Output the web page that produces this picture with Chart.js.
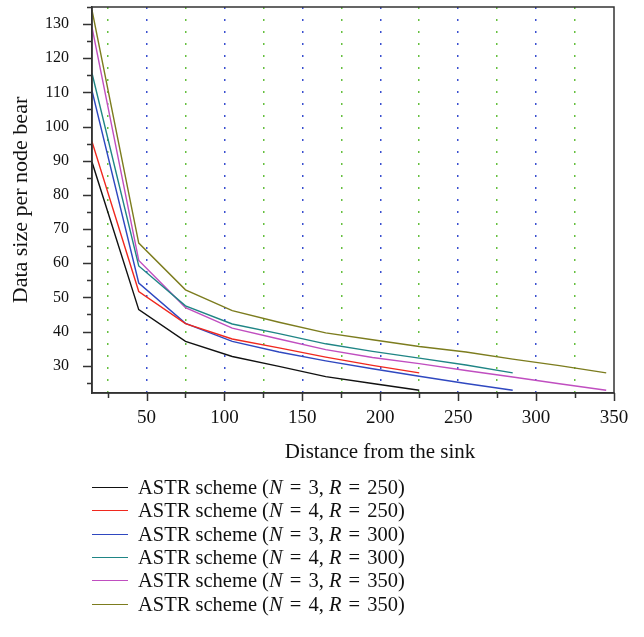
<!DOCTYPE html>
<html>
<head>
<meta charset="utf-8">
<script src="https://cdn.jsdelivr.net/npm/chart.js@4.4.1/dist/chart.umd.min.js"></script>
<style>
  body { margin: 0; background: #fff; }
  #wrap { position: relative; width: 644px; height: 637px; }
  #legend { position: absolute; left: 0; top: 0; font-family: "Liberation Serif", serif; font-size: 20.5px; color: #111; }
  .row { position: absolute; left: 92px; height: 22px; line-height: 22px; white-space: nowrap; }
  .row .ln { position: absolute; left: 0; top: 11px; width: 36px; height: 0; }
  .row .tx { position: absolute; left: 46px; top: 0; }
  .row .eq { margin: 0 2px; }
</style>
</head>
<body>
<div id="wrap">
  <canvas id="myChart" width="644" height="637"></canvas>
  <div id="legend"></div>
</div>
<script>
// distance of each sample from the sink
var distances = [15, 45, 75, 105, 135, 165, 195, 225, 255, 285, 315, 345];

var nValues = [3, 4, 3, 4, 3, 4];
var rValues = [250, 250, 300, 300, 350, 350];

var sizeN3R250 = [89.6, 46.4, 37.1, 32.7, 29.8, 26.8, 24.8, 22.8];
var sizeN4R250 = [95.6, 51.7, 42.3, 37.8, 35.2, 32.5, 30.1, 27.9];
var sizeN3R300 = [110.5, 54.2, 42.4, 37.1, 34.0, 31.4, 29.1, 26.9, 24.8, 22.8];
var sizeN4R300 = [115.6, 59.2, 47.5, 42.2, 39.4, 36.4, 34.2, 32.2, 30.2, 27.9];
var sizeN3R350 = [129.0, 60.8, 47.0, 41.0, 37.8, 34.7, 32.4, 30.6, 28.6, 26.7, 24.7, 22.8];
var sizeN4R350 = [134.1, 65.9, 52.2, 46.1, 42.7, 39.6, 37.6, 35.6, 34.0, 31.9, 30.0, 27.9];

var xTickValues = [25, 50, 75, 100, 125, 150, 175, 200, 225, 250, 275, 300, 325, 350];
var yTickValues = [25, 30, 35, 40, 45, 50, 55, 60, 65, 70, 75, 80, 85, 90, 95, 100, 105, 110, 115, 120, 125, 130, 135];

var allSeries = [sizeN3R250, sizeN4R250, sizeN3R300, sizeN4R300, sizeN3R350, sizeN4R350];
var lineColors = ['#111111', '#f0281e', '#2f48c0', '#1f8585', '#c04ec0', '#7c7c1e'];

var datasets = allSeries.map(function (s, k) {
  return {
    label: 'ASTR scheme (N = ' + nValues[k] + ', R = ' + rValues[k] + ')',
    data: s.map(function (v, i) { return {x: distances[i], y: v}; }),
    borderColor: lineColors[k],
    backgroundColor: lineColors[k],
    borderWidth: 1.4,
    pointRadius: 0,
    tension: 0,
    fill: false
  };
});

var serif = '"Liberation Serif", serif';

// frame on all four sides, long/short tick marks, x axis title
var frameAndTicks = {
  id: 'frameAndTicks',
  afterDraw: function (chart) {
    var ctx = chart.ctx, a = chart.chartArea;
    var x = chart.scales.x, y = chart.scales.y;
    ctx.save();
    ctx.strokeStyle = '#333';
    ctx.lineWidth = 1.5;
    ctx.strokeRect(a.left, a.top, a.right - a.left, a.bottom - a.top);
    ctx.beginPath();
    x.ticks.forEach(function (t) {
      var px = Math.round(x.getPixelForValue(t.value)) + 0.5;
      var len = t.value % 50 === 0 ? 8 : 5;
      ctx.moveTo(px, a.bottom);
      ctx.lineTo(px, a.bottom + len);
    });
    y.ticks.forEach(function (t) {
      var py = Math.round(y.getPixelForValue(t.value)) + 0.5;
      var len = t.value % 10 === 0 ? 9 : 5;
      ctx.moveTo(a.left, py);
      ctx.lineTo(a.left - len, py);
    });
    ctx.stroke();
    ctx.fillStyle = '#111';
    ctx.font = '21px ' + serif;
    ctx.textAlign = 'center';
    ctx.textBaseline = 'middle';
    ctx.fillText('Distance from the sink', 380, 452);
    ctx.restore();
  }
};

var ctx = document.getElementById('myChart').getContext('2d');
var myChart = new Chart(ctx, {
  type: 'line',
  data: { datasets: datasets },
  plugins: [frameAndTicks],
  options: {
    responsive: false,
    animation: false,
    devicePixelRatio: 1,
    layout: { padding: { left: 8, top: 7, right: 30, bottom: 173 } },
    plugins: {
      legend: { display: false },
      tooltip: { enabled: false }
    },
    scales: {
      x: {
        type: 'linear',
        min: 15,
        max: 350,
        afterBuildTicks: function (scale) {
          scale.ticks = xTickValues.map(function (v) { return {value: v}; });
        },
        afterFit: function (scale) { scale.height = 71; },
        ticks: {
          autoSkip: false,
          maxRotation: 0,
          padding: 6,
          color: '#111',
          font: { family: serif, size: 19 },
          callback: function (v) { return v % 50 === 0 ? String(v) : ''; }
        },
        grid: {
          drawOnChartArea: true,
          drawTicks: true,
          tickLength: 8,
          tickColor: 'rgba(0,0,0,0)',
          lineWidth: 1.5,
          color: function (c) {
            var v = c.tick ? c.tick.value : 0;
            if (v >= 350) return 'rgba(0,0,0,0)';
            return v % 50 === 0 ? '#3a50d0' : '#66c040';
          }
        },
        border: { display: true, color: '#333', width: 1.5, dash: [2, 10] }
      },
      y: {
        type: 'linear',
        min: 22,
        max: 135,
        afterBuildTicks: function (scale) {
          scale.ticks = yTickValues.map(function (v) { return {value: v}; });
        },
        afterFit: function (scale) {
          scale.width = 84;
          scale.paddingTop = 0;
          scale.paddingBottom = 0;
        },
        ticks: {
          autoSkip: false,
          padding: 14,
          color: '#111',
          font: { family: serif, size: 16 },
          callback: function (v) { return (v % 10 === 0 && v >= 30 && v <= 130) ? String(v) : ''; }
        },
        grid: {
          drawOnChartArea: false,
          drawTicks: true,
          tickLength: 9,
          tickColor: 'rgba(0,0,0,0)'
        },
        border: { display: true, color: '#333', width: 1.5 },
        title: {
          display: true,
          text: 'Data size per node bear',
          color: '#111',
          font: { family: serif, size: 22 },
          padding: 0
        }
      }
    }
  }
});

// legend in a single column under the chart
var legend = document.getElementById('legend');
allSeries.forEach(function (s, k) {
  var row = document.createElement('div');
  row.className = 'row';
  row.style.top = (476 + 23.3 * k) + 'px';
  row.innerHTML = '<span class="ln" style="border-top:1px solid ' + lineColors[k] + '"></span>' +
    '<span class="tx">ASTR scheme (<i>N</i> <span class="eq">=</span> ' + nValues[k] +
    ', <i>R</i> <span class="eq">=</span> ' + rValues[k] + ')</span>';
  legend.appendChild(row);
});
</script>
</body>
</html>
